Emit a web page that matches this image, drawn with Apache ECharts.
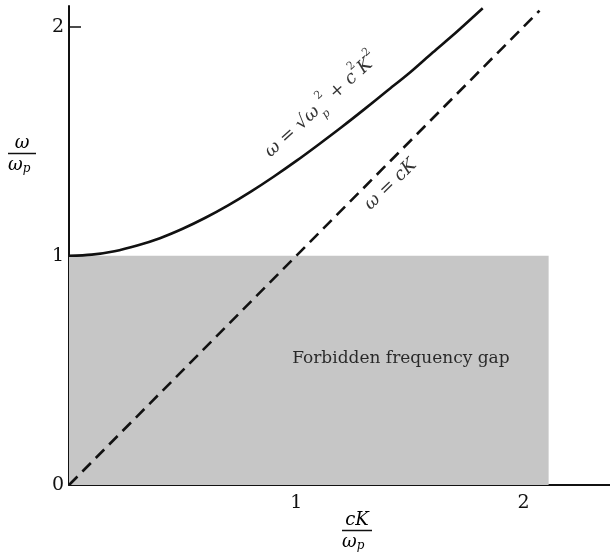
<!DOCTYPE html>
<html>
<head>
<meta charset="utf-8">
<script src="https://cdn.jsdelivr.net/npm/echarts@6/dist/echarts.min.js"></script>
<style>html,body{margin:0;padding:0;background:#fff;}#c{width:610px;height:558px;}</style>
</head>
<body>
<div id="c"></div>
<script>
// Data
var curveX = [0, 0.1, 0.2, 0.3, 0.4, 0.5, 0.6, 0.7, 0.8, 0.9, 1.0, 1.1, 1.2, 1.3, 1.4, 1.5, 1.6, 1.7, 1.82];
var curveY = [1.0, 1.005, 1.02, 1.045, 1.077, 1.118, 1.166, 1.22, 1.28, 1.345, 1.414, 1.487, 1.562, 1.64, 1.72, 1.80, 1.887, 1.972, 2.08];
var lightX = [0, 2.07];
var lightY = [0, 2.07];
var gapX = [0, 2.11];
var gapY = [0, 1];
var xTicks = [1, 2];
var yTickLabels = [0, 1, 2];
var yTicks = [1, 2];
var curveLabelPos = [1.11, 1.655];
var lightLabelPos = [1.415, 1.31];
var gapLabelPos = [1.46, 0.55];

var serif = 'DejaVu Serif';
function zip(a, b) { return a.map(function (v, i) { return [v, b[i]]; }); }

var chart = echarts.init(document.getElementById('c'));
var mathRich = {
  i: { fontFamily: serif, fontStyle: 'italic', fontSize: 18, color: '#000', lineHeight: 30, verticalAlign: 'middle' },
  r: { fontFamily: serif, fontSize: 18, color: '#000', lineHeight: 30, verticalAlign: 'middle' },
  u: { fontFamily: serif, fontSize: 11, color: '#000', lineHeight: 12, verticalAlign: 'top' },
  s: { fontFamily: serif, fontStyle: 'italic', fontSize: 11, color: '#000', lineHeight: 12, verticalAlign: 'bottom' }
};

chart.setOption({
  animation: false,
  backgroundColor: '#fff',
  grid: { left: 69, right: 0, top: 6, bottom: 73 },
  xAxis: {
    type: 'value', min: 0, max: 2.38, interval: 1,
    axisLine: { lineStyle: { color: '#111', width: 2 } },
    axisTick: { inside: true, length: 14, customValues: xTicks, lineStyle: { color: '#111', width: 1.5 } },
    splitLine: { show: false },
    axisLabel: { customValues: xTicks, margin: 9, fontFamily: serif, fontSize: 19, color: '#111' }
  },
  yAxis: {
    type: 'value', min: 0, max: 2.09, interval: 1,
    axisLine: { lineStyle: { color: '#111', width: 2 } },
    axisTick: { inside: true, length: 12, customValues: yTicks, lineStyle: { color: '#111', width: 1.5 } },
    splitLine: { show: false },
    axisLabel: { customValues: yTickLabels, margin: 5, fontFamily: serif, fontSize: 19, color: '#111' }
  },
  graphic: [
    { type: 'text', left: 8, top: 134, z: 10,
      style: { text: '{n|ω}\n{b|}\n{d|ω}{s|p}', align: 'center',
        rich: {
          n: { fontFamily: serif, fontStyle: 'italic', fontSize: 18, color: '#000', align: 'center', lineHeight: 18 },
          b: { width: 28, height: 1.5, backgroundColor: '#111', align: 'center', lineHeight: 3 },
          d: { fontFamily: serif, fontStyle: 'italic', fontSize: 18, color: '#000', lineHeight: 20 },
          s: { fontFamily: serif, fontStyle: 'italic', fontSize: 12, color: '#000', lineHeight: 20, verticalAlign: 'bottom' }
        } } },
    { type: 'text', left: 342, top: 511, z: 10,
      style: { text: '{n|cK}\n{b|}\n{d|ω}{s|p}', align: 'center',
        rich: {
          n: { fontFamily: serif, fontStyle: 'italic', fontSize: 18, color: '#000', align: 'center', lineHeight: 18 },
          b: { width: 30, height: 1.5, backgroundColor: '#111', align: 'center', lineHeight: 3 },
          d: { fontFamily: serif, fontStyle: 'italic', fontSize: 18, color: '#000', lineHeight: 20 },
          s: { fontFamily: serif, fontStyle: 'italic', fontSize: 12, color: '#000', lineHeight: 20, verticalAlign: 'bottom' }
        } } }
  ],
  series: [
    {
      type: 'line', data: [], z: 1,
      markArea: {
        silent: true,
        itemStyle: { color: '#c6c6c6' },
        data: [[{ coord: [gapX[0], gapY[0]] }, { coord: [gapX[1], gapY[1]] }]]
      }
    },
    {
      type: 'line', data: zip(curveX, curveY), smooth: 0.3, showSymbol: false, z: 3,
      lineStyle: { color: '#111', width: 2.6, join: 'round' }
    },
    {
      type: 'line', data: zip(lightX, lightY), showSymbol: false, z: 3,
      lineStyle: { color: '#111', width: 2.6, type: [12, 7] }
    },
    {
      type: 'scatter', symbolSize: 0, z: 4, silent: true,
      data: [
        { value: curveLabelPos, label: { rotate: 42, formatter: '{i|ω}{r| = √}{i|ω}{s|p}{u|2}{r| + }{i|c}{u|2}{i|K}{u|2}', rich: mathRich } },
        { value: lightLabelPos, label: { rotate: 44, formatter: '{i|ω}{r| = }{i|c}{i|K}', rich: mathRich } },
        { value: gapLabelPos, label: { formatter: 'Forbidden frequency gap', fontFamily: serif, fontSize: 17, color: '#000' } }
      ],
      label: { show: true, position: 'inside', align: 'center', verticalAlign: 'middle', color: '#000', textBorderWidth: 0 }
    }
  ]
});
</script>
</body>
</html>
